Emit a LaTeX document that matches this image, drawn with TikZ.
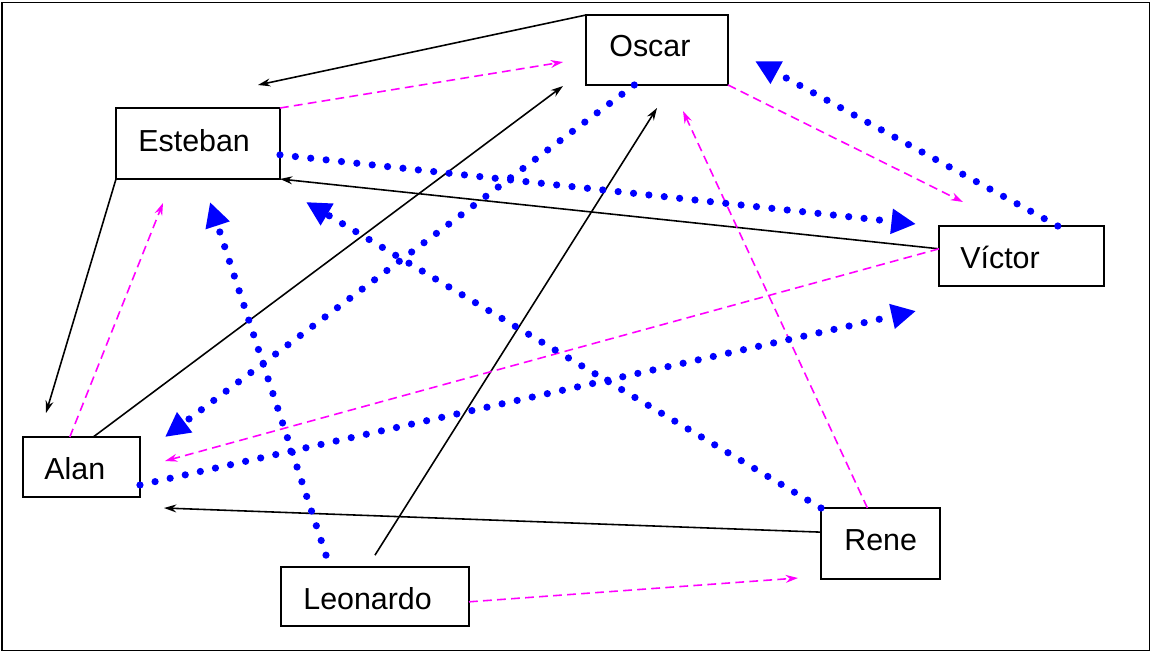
\documentclass[tikz,border=0pt]{standalone}
\usepackage{fontspec}
\setmainfont{Liberation Sans}
\usetikzlibrary{arrows.meta,calc}
\definecolor{mag}{RGB}{255,0,255}
\definecolor{blu}{RGB}{0,0,255}

\begin{document}
\begin{tikzpicture}[x=0.02cm,y=-0.02cm]
\tikzstyle{box}=[draw,line width=1pt,inner sep=0pt,outer sep=0pt]
\tikzstyle{boxtext}=[anchor=base west,inner sep=0pt,font=\fontsize{17.3}{20}\selectfont]
\tikzstyle{plain}=[line width=0.9pt,-{Stealth[length=7pt,width=4.5pt]}]
\tikzstyle{pink}=[mag,line width=0.9pt,dash pattern=on 5pt off 3pt,-{Stealth[length=7pt,width=4.5pt]}]
\tikzstyle{dots}=[blu,line width=4.1pt,line cap=round,dash pattern=on 0pt off 8.8pt,-{Triangle[length=14pt,width=13.5pt]}]
\useasboundingbox (0,0) rectangle (1151,652);
\draw[line width=1pt] (2,2.5) rectangle (1149.5,650.5);

\node[box,minimum width=2.84cm,minimum height=1.40cm] (oscar) at (657,50) {};
\node[boxtext] (oscart) at (609,57) {Oscar};
\node[box,minimum width=3.28cm,minimum height=1.42cm] (esteban) at (198,143.5) {};
\node[boxtext] (estebant) at (138,151) {Esteban};
\node[box,minimum width=3.30cm,minimum height=1.20cm] (victor) at (1021.5,256) {};
\node[boxtext] (victort) at (960,268) {Víctor};
\node[box,minimum width=2.34cm,minimum height=1.20cm] (alan) at (81.5,467) {};
\node[boxtext] (alant) at (44,479) {Alan};
\node[box,minimum width=3.76cm,minimum height=1.18cm] (leonardo) at (375,596.5) {};
\node[boxtext] (leonardot) at (303,609) {Leonardo};
\node[box,minimum width=2.38cm,minimum height=1.42cm] (rene) at (880.5,543.5) {};
\node[boxtext] (renet) at (844,550) {Rene};

\coordinate (oe) at (258,85);
\coordinate (ao) at (563,86);
\coordinate (ea) at (46,413);
\coordinate (lo) at (657,108);
\coordinate (ra) at (164,508);
\coordinate (peo) at (563,62);
\coordinate (pae) at (163,203);
\coordinate (pov) at (963,202);
\coordinate (pva) at (165,461);
\coordinate (pro) at (683,111);
\coordinate (plr) at (798,578);
\coordinate (bev) at (916,224);
\coordinate (boa) at (165,437);
\coordinate (bav) at (916,311);
\coordinate (bvo) at (755,61);
\coordinate (ble) at (210,202);
\coordinate (bre) at (306,202);

\draw[plain] (oscar.north west) -- (oe);
\draw[plain] ($(alan.north west)!0.6!(alan.north east)$) -- (ao);
\draw[plain] (esteban.south west) -- (ea);
\draw[plain] ($(victor.north west)!0.38!(victor.south west)$) -- (esteban.south east);
\draw[plain,shorten <=0.28cm] ($(leonardo.north west)!0.46!(leonardo.north east)$) -- (lo);
\draw[plain] ($(rene.north west)!0.34!(rene.south west)$) -- (ra);

\draw[pink] (esteban.north east) -- (peo);
\draw[pink] ($(alan.north west)!0.4!(alan.north east)$) -- (pae);
\draw[pink] (oscar.south east) -- (pov);
\draw[pink] ($(victor.north west)!0.38!(victor.south west)$) -- (pva);
\draw[pink] ($(rene.north west)!0.39!(rene.north east)$) -- (pro);
\draw[pink] ($(leonardo.north east)!0.59!(leonardo.south east)$) -- (plr);

\draw[dots] ($(esteban.north east)!0.66!(esteban.south east)$) -- (bev);
\draw[dots] ($(oscar.south west)!0.34!(oscar.south east)$) -- (boa);
\draw[dots] ($(alan.north east)!0.8!(alan.south east)$) -- (bav);
\draw[dots] ($(victor.north west)!0.72!(victor.north east)$) -- (bvo);
\draw[dots,shorten <=0.25cm] ($(leonardo.north west)!0.26!(leonardo.north east)$) -- (ble);
\draw[dots] (rene.north west) -- (bre);
\end{tikzpicture}
\end{document}
